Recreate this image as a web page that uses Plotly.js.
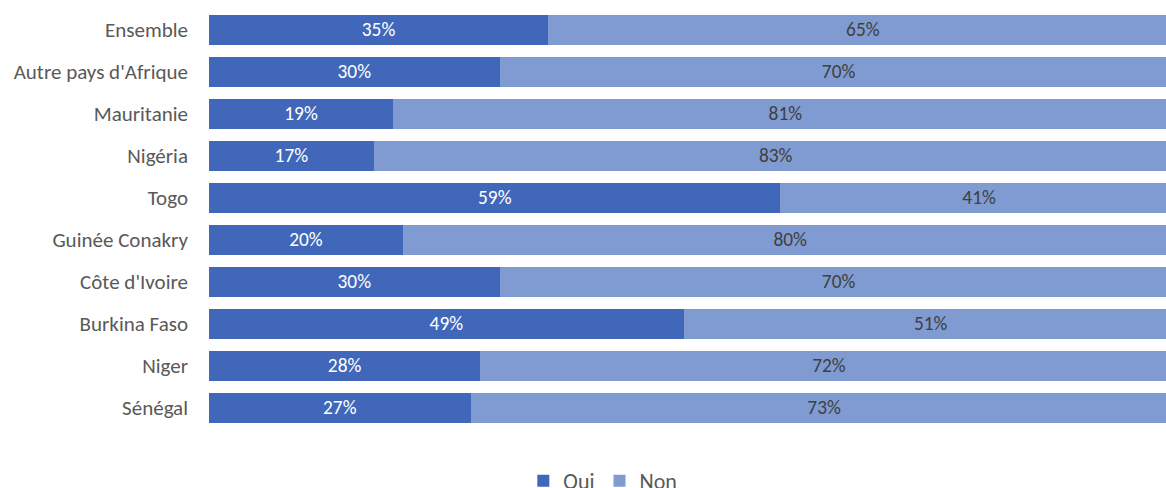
<!DOCTYPE html>
<html>
<head>
<meta charset="utf-8">
<script src="https://cdn.plot.ly/plotly-3.0.1.min.js"></script>
<style>html,body{margin:0;padding:0;background:#fff;}#chart{width:1166px;height:488px;}</style>
</head>
<body>
<div id="chart"></div>
<script>
const categories = ["Ensemble", "Autre pays d'Afrique", "Mauritanie", "Nigéria", "Togo", "Guinée Conakry", "Côte d'Ivoire", "Burkina Faso", "Niger", "Sénégal"];
const oui = [35, 30, 19, 17, 59, 20, 30, 49, 28, 27];
const non = [65, 70, 81, 83, 41, 80, 70, 51, 72, 73];

const font = "Carlito, Calibri, 'Liberation Sans', Arial, sans-serif";
const traces = [
  {
    type: 'bar', orientation: 'h', name: 'Oui',
    y: categories, x: oui,
    text: oui.map(v => v + '%'), textposition: 'inside', insidetextanchor: 'middle',
    textfont: {family: font, size: 21, color: '#ffffff'},
    marker: {color: '#4067B9'}, hoverinfo: 'skip'
  },
  {
    type: 'bar', orientation: 'h', name: 'Non',
    y: categories, x: non,
    text: non.map(v => v + '%'), textposition: 'inside', insidetextanchor: 'middle',
    textfont: {family: font, size: 21, color: '#404040'},
    marker: {color: '#7F9BD1'}, hoverinfo: 'skip'
  }
];
const layout = {
  width: 1166, height: 488,
  margin: {l: 209, r: 0, t: 9, b: 59},
  barmode: 'stack', bargap: 0.286,
  paper_bgcolor: '#fff', plot_bgcolor: '#fff',
  font: {family: font, size: 21, color: '#595959'},
  xaxis: {range: [0, 98.8], showgrid: false, zeroline: false, showticklabels: false, showline: false, fixedrange: true},
  yaxis: {autorange: 'reversed', showgrid: false, zeroline: false, showline: false, ticks: '', ticklabelstandoff: 20,
          tickfont: {family: font, size: 21, color: '#595959'}},
  legend: {orientation: 'h', xref: 'container', yref: 'container', x: 0.517, xanchor: 'center', y: 0.0143, yanchor: 'middle',
           font: {family: font, size: 22, color: '#595959'}, itemwidth: 30, traceorder: 'normal'},
  showlegend: true
};
Plotly.newPlot('chart', traces, layout, {displayModeBar: false, staticPlot: true});
</script>
</body>
</html>
